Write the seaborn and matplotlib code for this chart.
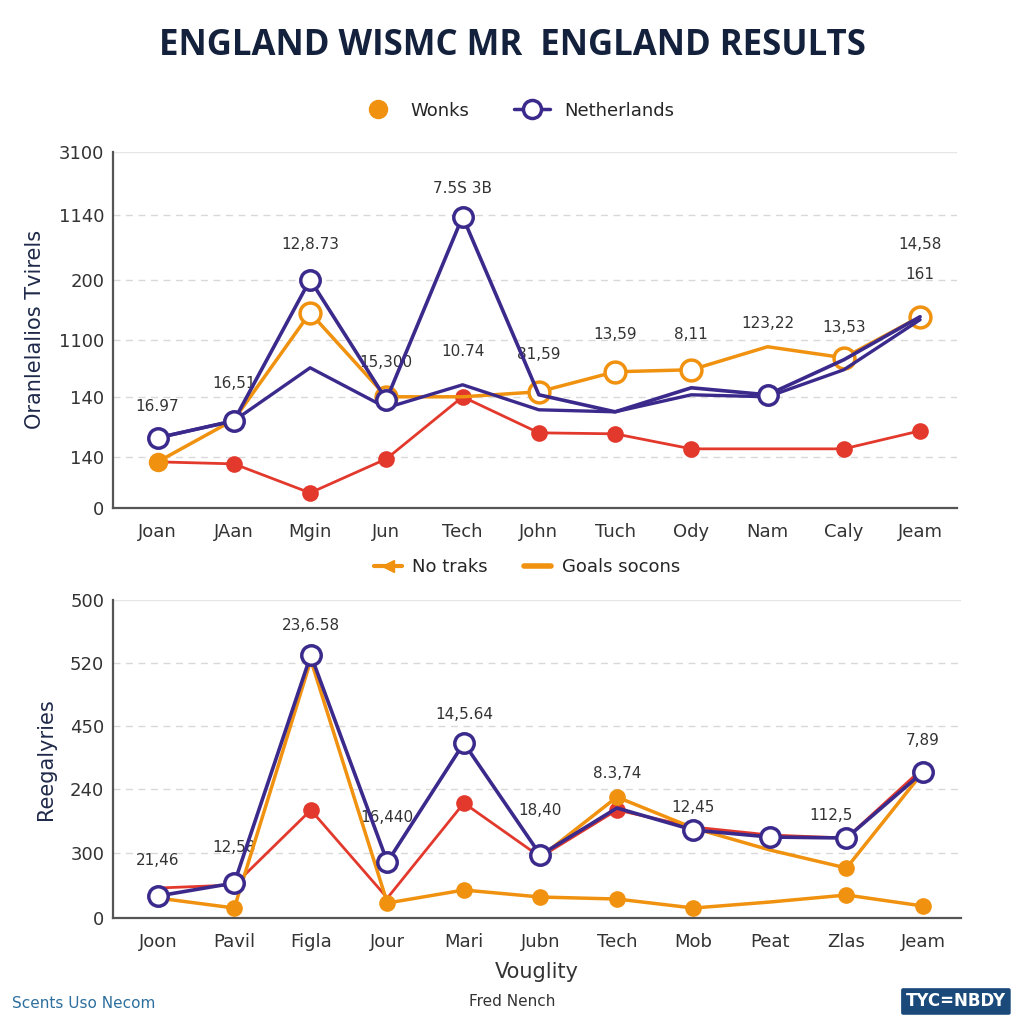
import numpy as np
import matplotlib
matplotlib.use("Agg")
import matplotlib.pyplot as plt
from matplotlib.lines import Line2D
from matplotlib.patches import FancyBboxPatch
import seaborn as sns

# ---- data (top panel) ----
top_cats = ["Joan", "JAan", "Mgin", "Jun", "Tech", "John", "Tuch", "Ody", "Nam", "Caly", "Jeam"]
top_red = [46, 44, 15, 49, 111, 75, 74, 59, 59, 59, 77]
top_navy_a = [70, 87, 228, 108, 291, 113, 96, 120, 113, 148, 191]
top_navy_b = [70, 87, 140, 100, 123, 98, 96, 113, 111, 138, 188]
top_orange = [46, 88, 195, 111, 111, 116, 136, 138, 161, 150, 191]
top_tick_pos = [0, 51, 111, 168, 228, 293, 356]
top_tick_lbl = ["0", "140", "140", "1100", "200", "1140", "3100"]
top_notes = ["16.97", "16,51", "12,8.73", "15,300", "10.74", "7.5S 3B", "81,59",
             "13,59", "8,11", "123,22", "13,53", "14,58", "161"]
top_note_x = [0, 1, 2, 3, 4, 4, 5, 6, 7, 8, 9, 10, 10]
top_note_y = [101, 124, 263, 145, 156, 319, 153, 173, 173, 184, 180, 263, 233]

# ---- data (bottom panel) ----
bot_cats = ["Joon", "Pavil", "Figla", "Jour", "Mari", "Jubn", "Tech", "Mob", "Peat", "Zlas", "Jeam"]
bot_navy = [22, 35, 263, 56, 175, 63, 110, 88, 81, 80, 146]
bot_orange_low = [20, 10, 258, 15, 28, 21, 19, 10, 16, 23, 12]
bot_orange_up = [np.nan, np.nan, np.nan, np.nan, np.nan, 61, 121, 90, 68, 50, 146]
bot_red = [30, 33, 108, 20, 115, 61, 108, 91, 83, 80, 150]
bot_tick_pos = [0, 65, 129, 192, 255, 318]
bot_tick_lbl = ["0", "300", "240", "450", "520", "500"]
bot_notes = ["21,46", "12,58", "23,6.58", "16,440", "14,5.64", "18,40", "8.3,74",
             "12,45", "112,5", "7,89"]
bot_note_x = [0, 1, 2, 3, 4, 5, 6, 7, 8.8, 10]
bot_note_y = [58, 71, 293, 101, 204, 108, 145, 111, 103, 178]

NAVY = "#3b2a8c"
ORANGE = "#f0920f"
RED = "#e2392c"
TXT = "#333333"

sns.set_theme(style="white")
plt.rcParams["font.family"] = ["DejaVu Sans"]

fig = plt.figure(figsize=(10.24, 10.24), dpi=100)
fig.patch.set_facecolor("white")


def style_axes(ax, ticks, labels, cats, ymax):
    ax.set_ylim(0, ymax)
    ax.set_xlim(-0.59, 10.49)
    ax.set_yticks(ticks)
    ax.set_yticklabels(labels, fontsize=13, color=TXT)
    ax.set_xticks(np.arange(len(cats)))
    ax.set_xticklabels(cats, fontsize=13, color=TXT)
    ax.tick_params(axis="x", length=5, width=1.3, color="#555555", pad=6)
    ax.tick_params(axis="y", length=0, pad=6)
    for t in ticks[1:-1]:
        ax.axhline(t, color="#d9d9d9", lw=1, ls=(0, (5, 4)), zorder=0)
    ax.axhline(ticks[-1], color="#e6e6e6", lw=1, zorder=0)
    for s in ["top", "right"]:
        ax.spines[s].set_visible(False)
    for s in ["left", "bottom"]:
        ax.spines[s].set_color("#555555")
        ax.spines[s].set_linewidth(1.6)


def open_style(color, size=14):
    return dict(marker="o", markersize=size, markerfacecolor="white",
                markeredgecolor=color, markeredgewidth=2.5)


# ---------------- top panel ----------------
ax1 = fig.add_axes([0.110, 0.504, 0.825, 0.348])
x1 = np.arange(len(top_cats))
sns.lineplot(x=x1, y=top_red, ax=ax1, color=RED, lw=2, marker="o", markersize=12,
             markeredgewidth=0, markevery=[0, 1, 2, 3, 4, 5, 6, 7, 9, 10], zorder=3)
sns.lineplot(x=x1, y=top_orange, ax=ax1, color=ORANGE, lw=2.5, zorder=4,
             markevery=[2, 3, 5, 6, 7, 9, 10], **open_style(ORANGE, 15))
sns.lineplot(x=x1, y=top_navy_b, ax=ax1, color=NAVY, lw=2.4, zorder=5)
sns.lineplot(x=x1, y=top_navy_a, ax=ax1, color=NAVY, lw=2.6, zorder=6,
             markevery=[0, 1, 2, 3, 4, 8], **open_style(NAVY, 14))
ax1.plot(x1[:1], top_orange[:1], "o", color=ORANGE, markersize=13, zorder=7)
style_axes(ax1, top_tick_pos, top_tick_lbl, top_cats, 356)
ax1.set_ylabel("Oranlelalios Tvirels", fontsize=15, color="#1f2a4a", labelpad=10)
for t, x, y in zip(top_notes, top_note_x, top_note_y):
    ax1.text(x, y, t, ha="center", va="center", fontsize=11, color=TXT)

# ---------------- bottom panel ----------------
ax2 = fig.add_axes([0.110, 0.1035, 0.828, 0.3105])
x2 = np.arange(len(bot_cats))
sns.lineplot(x=x2, y=bot_red, ax=ax2, color=RED, lw=2, marker="o", markersize=12,
             markeredgewidth=0, markevery=[2, 4, 6], zorder=3)
sns.lineplot(x=x2, y=bot_orange_low, ax=ax2, color=ORANGE, lw=2.5, marker="o",
             markersize=12, markeredgewidth=0, markevery=[0, 1, 3, 4, 5, 6, 7, 9, 10], zorder=4)
ax2.plot(x2, bot_orange_up, color=ORANGE, lw=2.5, marker="o", markersize=12,
         markeredgewidth=0, markevery=[6, 7, 9], zorder=4)
sns.lineplot(x=x2, y=bot_navy, ax=ax2, color=NAVY, lw=2.6, zorder=6,
             markevery=[0, 1, 2, 3, 4, 5, 7, 8, 9, 10], **open_style(NAVY, 14))
style_axes(ax2, bot_tick_pos, bot_tick_lbl, bot_cats, 318)
ax2.set_ylabel("Reegalyries", fontsize=15, color="#1f2a4a", labelpad=10)
ax2.set_xlabel("Vouglity", fontsize=15, color=TXT, labelpad=8)
for t, x, y in zip(bot_notes, bot_note_x, bot_note_y):
    ax2.text(x, y, t, ha="center", va="center", fontsize=11, color=TXT)

# ---------------- titles, legends, footer ----------------
fig.text(0.5, 0.955, "ENGLAND WISMC MR  ENGLAND RESULTS", ha="center", va="center",
         fontsize=25, fontweight="bold", color="#14213d", family=["Open Sans", "DejaVu Sans"])

h1 = [Line2D([], [], ls="none", marker="o", color=ORANGE, markersize=13),
      Line2D([], [], color=NAVY, lw=2.5, **open_style(NAVY, 13))]
fig.legend(h1, ["Wonks", "Netherlands"], loc="center", bbox_to_anchor=(0.505, 0.892),
           ncol=2, frameon=False, fontsize=13, columnspacing=2.5, handletextpad=0.8)

h2 = [Line2D([], [], color=ORANGE, lw=3, marker="<", markersize=8),
      Line2D([], [], color=ORANGE, lw=4)]
fig.legend(h2, ["No traks", "Goals socons"], loc="center", bbox_to_anchor=(0.515, 0.446),
           ncol=2, frameon=False, fontsize=13, columnspacing=2.0, handletextpad=0.6,
           handlelength=1.5)

fig.text(0.012, 0.020, "Scents Uso Necom", fontsize=11, color="#2d6f9e", va="center")
fig.text(0.5, 0.022, "Fred Nench", fontsize=11, color=TXT, ha="center", va="center")
logo = FancyBboxPatch((0.882, 0.011), 0.103, 0.022, boxstyle="round,pad=0.002",
                      transform=fig.transFigure, facecolor="#1b4a7a", edgecolor="none")
fig.patches.append(logo)
fig.text(0.9335, 0.022, "TYC=NBDY", fontsize=12, fontweight="bold", color="white",
         ha="center", va="center")

fig.savefig("out.png", dpi=100, facecolor="white")
